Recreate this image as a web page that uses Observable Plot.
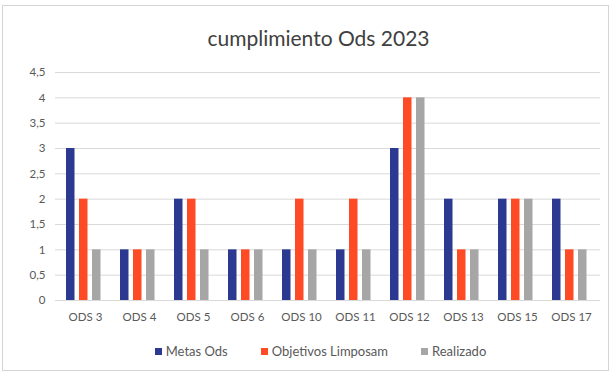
<!DOCTYPE html>
<html><head><meta charset="utf-8">
<script src="https://cdn.jsdelivr.net/npm/d3@7"></script>
<script src="https://cdn.jsdelivr.net/npm/@observablehq/plot@0.6"></script>
<style>
body{margin:0;background:#fff;font-family:Lato,"Open Sans",sans-serif;}
#wrap{position:relative;width:613px;height:378px;overflow:hidden;background:#fff;}
#frame{position:absolute;left:2px;top:5px;width:607px;height:366px;border:1px solid #d4d4d4;box-sizing:border-box;}
#title{position:absolute;top:25px;left:0;width:613px;text-align:center;padding-left:24px;box-sizing:border-box;font-size:21px;color:#404040;}
#chart{position:absolute;top:58px;left:0;}
#legend{position:absolute;top:343px;left:0;width:613px;display:flex;justify-content:center;gap:33px;padding-left:28px;box-sizing:border-box;font-size:13px;color:#595959;}
#legend span.sw{display:inline-block;width:7px;height:7px;margin-right:4px;vertical-align:middle;position:relative;top:-1px;}
</style></head>
<body><div id="wrap"><div id="frame"></div><div id="title"></div><div id="chart"></div><div id="legend"></div></div>
<script>
const title = "cumplimiento Ods 2023";
const categories = ["ODS 3","ODS 4","ODS 5","ODS 6","ODS 10","ODS 11","ODS 12","ODS 13","ODS 15","ODS 17"];
const seriesNames = ["Metas Ods","Objetivos Limposam","Realizado"];
const metasOds = [3,1,2,1,1,1,3,2,2,2];
const objetivosLimposam = [2,1,2,1,2,2,4,1,2,1];
const realizado = [1,1,1,1,1,1,4,1,2,1];
const yTicks = [0,0.5,1,1.5,2,2.5,3,3.5,4,4.5];
const colors = ["#2b3990","#ff4a26","#a6a6a6"];

const seriesValues = [metasOds, objetivosLimposam, realizado];
const data = seriesValues.map((vals, s) => categories.map((c, i) => ({cat: c, series: seriesNames[s], value: vals[i]})));

document.getElementById("title").textContent = title;

const width = 613, marginLeft = 55, marginRight = 13;
const band = (width - marginLeft - marginRight) / categories.length;
const groupStart = 8, barW = 9, gap = 4;

const marks = [
  Plot.ruleY(yTicks, {stroke: "#d9d9d9", strokeWidth: 1}),
  ...data.map((d, s) => {
    const left = groupStart + s * (barW + gap);
    return Plot.barY(d, {x: "cat", y: "value", fill: colors[s],
      insetLeft: left, insetRight: band - left - barW});
  })
];

const chart = Plot.plot({
  width, height: 277,
  marginTop: 14, marginBottom: 35, marginLeft, marginRight,
  style: {fontFamily: "Lato, 'Open Sans', sans-serif", fontSize: "11.5px", color: "#595959", background: "transparent"},
  x: {domain: categories, padding: 0, label: null, tickSize: 0, tickPadding: 12},
  y: {domain: [0, 4.5], ticks: yTicks, tickFormat: d => String(d).replace(".", ","), label: null, tickSize: 0, tickPadding: 10},
  marks
});
document.getElementById("chart").appendChild(chart);

const legend = document.getElementById("legend");
seriesNames.forEach((n, i) => {
  const item = document.createElement("div");
  const sw = document.createElement("span");
  sw.className = "sw"; sw.style.background = colors[i];
  item.appendChild(sw);
  item.appendChild(document.createTextNode(n));
  legend.appendChild(item);
});
</script></body></html>
